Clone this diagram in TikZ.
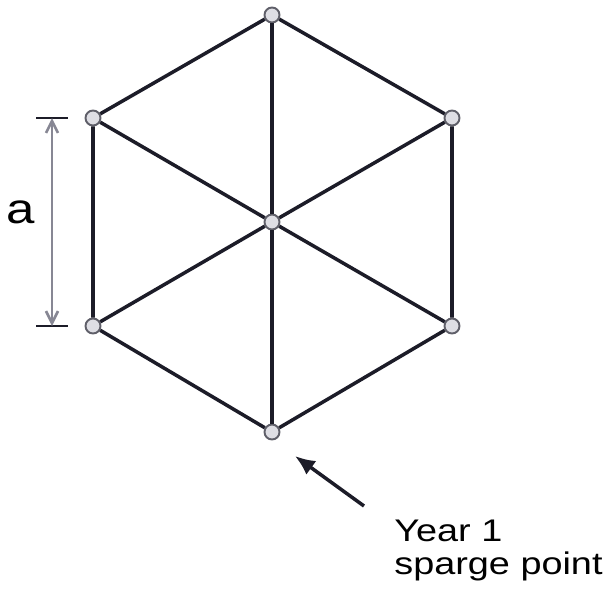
\documentclass[tikz,border=0pt]{standalone}
\usepackage{fontspec}
\setmainfont{Liberation Sans}
\newfontfamily\labelfont[FakeStretch=1.21]{Liberation Sans}
\usetikzlibrary{arrows.meta}
\definecolor{Ink}{RGB}{28,28,40}
\definecolor{PointFill}{RGB}{222,222,228}
\definecolor{PointRim}{RGB}{95,95,105}
\definecolor{DimGray}{RGB}{135,135,148}
\tikzset{
  >=Latex,
  point/.style={circle,draw=PointRim,line width=1.1pt,fill=PointFill,minimum size=.3cm,inner sep=0pt},
  pipe/.style={line width=2pt,draw=Ink},
  dimline/.style={{Straight Barb[length=2.4mm,width=2.4mm]}-{Straight Barb[length=2.4mm,width=2.4mm]},line width=1.5pt,draw=DimGray},
  tick/.style={line width=1.1pt,draw=Ink},
  pointer/.style={-{Latex[length=4mm,width=3.4mm]},line width=2pt,draw=Ink},
  label/.style={font=\labelfont\fontsize{17.8}{18.3}\selectfont,text=black,align=left,inner sep=0pt}
}
\begin{document}
\begin{tikzpicture}[x=.02cm,y=-.02cm]
  \useasboundingbox (0,0) rectangle (606,593);
  % sparge points
  \node[point] (top) at (272,15) {};
  \node[point] (ul) at (93,118) {};
  \node[point] (ur) at (452,118) {};
  \node[point] (mid) at (272,222) {};
  \node[point] (ll) at (93,326) {};
  \node[point] (lr) at (452,326) {};
  \node[point] (bot) at (272,432) {};
  % pipe grid
  \draw[pipe] (top)--(ul)--(ll)--(bot)--(lr)--(ur)--(top);
  \draw[pipe] (top)--(mid)--(bot);
  \draw[pipe] (ul)--(mid)--(lr);
  \draw[pipe] (ur)--(mid)--(ll);
  % dimension
  \coordinate (dimtop) at (52,118);
  \coordinate (dimbot) at (52,326);
  \draw[tick] (36,118)--(68,118);
  \draw[tick] (36,326)--(68,326);
  \draw[dimline] (dimtop)--(dimbot);
  \node[font=\labelfont\fontsize{24}{24}\selectfont,inner sep=0pt] (alab) at (21,212) {a};
  % pointer to first point
  \node[label,anchor=north west] (year) at (394,520) {Year 1\\sparge point};
  \coordinate (tail) at (364,506);
  \coordinate (tip) at (295,456);
  \draw[pointer] (tail)--(tip);
\end{tikzpicture}
\end{document}
